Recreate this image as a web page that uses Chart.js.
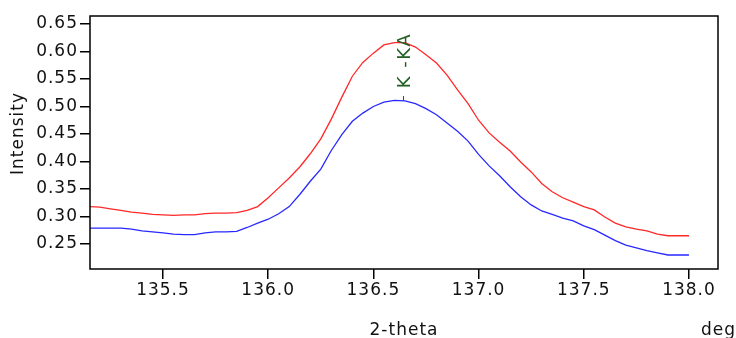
<!DOCTYPE html>
<html>
<head>
<meta charset="utf-8">
<script src="https://cdn.jsdelivr.net/npm/chart.js@4/dist/chart.umd.min.js"></script>
<style>
  html, body { margin: 0; padding: 0; background: #fff; }
  #wrap { width: 736px; height: 338px; }
</style>
</head>
<body>
<div id="wrap"><canvas id="myChart" width="736" height="338"></canvas></div>
<script>
// 2-theta positions (deg)
let twoTheta = [
  135.15, 135.20, 135.25, 135.30, 135.35, 135.40, 135.45, 135.50, 135.55, 135.60,
  135.65, 135.70, 135.75, 135.80, 135.85, 135.90, 135.95, 136.00, 136.05, 136.10,
  136.15, 136.20, 136.25, 136.30, 136.35, 136.40, 136.45, 136.50, 136.55, 136.60,
  136.65, 136.70, 136.75, 136.80, 136.85, 136.90, 136.95, 137.00, 137.05, 137.10,
  137.15, 137.20, 137.25, 137.30, 137.35, 137.40, 137.45, 137.50, 137.55, 137.60,
  137.65, 137.70, 137.75, 137.80, 137.85, 137.90, 137.95, 138.00
]

// upper (red) scan
let redIntensity = [
  0.318, 0.317, 0.314, 0.311, 0.308, 0.306, 0.304, 0.303, 0.302, 0.303,
  0.303, 0.305, 0.306, 0.306, 0.307, 0.311, 0.318, 0.334, 0.352, 0.370,
  0.390, 0.414, 0.441, 0.477, 0.517, 0.555, 0.580, 0.597, 0.612, 0.616,
  0.616, 0.608, 0.594, 0.579, 0.557, 0.530, 0.505, 0.475, 0.452, 0.435,
  0.419, 0.399, 0.381, 0.360, 0.345, 0.334, 0.326, 0.318, 0.312, 0.299,
  0.288, 0.281, 0.277, 0.274, 0.268, 0.265, 0.265, 0.265
]

// lower (blue) scan
let blueIntensity = [
  0.279, 0.279, 0.279, 0.279, 0.277, 0.274, 0.272, 0.270, 0.268, 0.267,
  0.267, 0.270, 0.272, 0.272, 0.273, 0.280, 0.288, 0.295, 0.305, 0.318,
  0.340, 0.364, 0.386, 0.420, 0.449, 0.473, 0.488, 0.500, 0.508, 0.511,
  0.510, 0.505, 0.496, 0.485, 0.470, 0.455, 0.437, 0.413, 0.392, 0.374,
  0.354, 0.336, 0.321, 0.310, 0.304, 0.297, 0.292, 0.283, 0.276, 0.266,
  0.256, 0.248, 0.243, 0.238, 0.234, 0.230, 0.230, 0.230
]

// tick labels
let xTicks = [135.5, 136.0, 136.5, 137.0, 137.5, 138.0]
let yTicks = [0.25, 0.30, 0.35, 0.40, 0.45, 0.50, 0.55, 0.60, 0.65]

// line marker
let markerLabel = "K -KA"
let markerPos = 136.64
let markerTop = 0.533
let markerTick = [0.510, 0.519]

const fontFamily = "'DejaVu Sans', Verdana, sans-serif"
const spacing = '1px'

// keep the wide letter spacing of the original
const spacingPlugin = {
  id: 'spacing',
  beforeLayout(chart) { chart.ctx.letterSpacing = spacing },
  beforeDraw(chart) { chart.ctx.letterSpacing = spacing }
}

// frame, axis titles and the line marker
const decoPlugin = {
  id: 'deco',
  afterDraw(chart) {
    const ctx = chart.ctx
    const a = chart.chartArea
    const xs = chart.scales.x
    const ys = chart.scales.y
    ctx.save()
    ctx.letterSpacing = spacing
    ctx.strokeStyle = '#000'
    ctx.lineWidth = 1.5
    ctx.strokeRect(a.left, a.top, a.right - a.left, a.bottom - a.top)

    ctx.fillStyle = '#111'
    ctx.font = "17px " + fontFamily
    ctx.textBaseline = 'alphabetic'
    ctx.textAlign = 'center'
    ctx.fillText('2-theta', (a.left + a.right) / 2, 335)
    ctx.textAlign = 'right'
    ctx.fillText('deg', 736, 335)

    ctx.save()
    ctx.translate(23, (a.top + a.bottom) / 2 - 9)
    ctx.rotate(-Math.PI / 2)
    ctx.textAlign = 'center'
    ctx.fillText('Intensity', 0, 0)
    ctx.restore()

    // marker
    const mx = xs.getPixelForValue(markerPos)
    ctx.strokeStyle = '#236023'
    ctx.lineWidth = 1
    ctx.beginPath()
    ctx.moveTo(Math.round(mx) + 0.5, ys.getPixelForValue(markerTick[0]))
    ctx.lineTo(Math.round(mx) + 0.5, ys.getPixelForValue(markerTick[1]))
    ctx.stroke()
    ctx.save()
    ctx.translate(mx + 7, ys.getPixelForValue(markerTop))
    ctx.rotate(-Math.PI / 2)
    ctx.font = "18px " + fontFamily
    ctx.letterSpacing = '1.5px'
    ctx.fillStyle = '#236023'
    ctx.textAlign = 'left'
    ctx.fillText(markerLabel, 0, 0)
    ctx.restore()
    ctx.restore()
  }
}

const ctx = document.getElementById('myChart').getContext('2d')
const myChart = new Chart(ctx, {
  type: 'line',
  data: {
    labels: twoTheta,
    datasets: [{
      label: 'red',
      data: twoTheta.map((t, i) => ({x: t, y: redIntensity[i]})),
      borderColor: 'rgb(255, 40, 40)',
      borderWidth: 1.3,
      pointRadius: 0,
      tension: 0
    }, {
      label: 'blue',
      data: twoTheta.map((t, i) => ({x: t, y: blueIntensity[i]})),
      borderColor: 'rgb(40, 40, 255)',
      borderWidth: 1.3,
      pointRadius: 0,
      tension: 0
    }]
  },
  options: {
    responsive: false,
    animation: false,
    events: [],
    layout: { padding: { top: 16, right: 18, left: 0, bottom: 0 } },
    plugins: { legend: { display: false }, tooltip: { enabled: false } },
    scales: {
      x: {
        type: 'linear',
        min: 135.153,
        max: 138.138,
        afterBuildTicks: (s) => { s.ticks = xTicks.map(v => ({value: v})) },
        afterFit: (s) => { s.height = 69 },
        border: { display: false },
        grid: { drawOnChartArea: false, drawTicks: true, tickLength: 10, color: '#000', lineWidth: 1.5 },
        ticks: {
          color: '#111',
          padding: 1,
          maxRotation: 0,
          font: { family: fontFamily, size: 17 },
          callback: (v) => Number(v).toFixed(1)
        }
      },
      y: {
        min: 0.2045,
        max: 0.6645,
        afterBuildTicks: (s) => { s.ticks = yTicks.map(v => ({value: v})) },
        afterFit: (s) => { s.width = 90 },
        border: { display: false },
        grid: { drawOnChartArea: false, drawTicks: true, tickLength: 10, color: '#000', lineWidth: 1.5 },
        ticks: {
          color: '#111',
          padding: 2,
          font: { family: fontFamily, size: 17 },
          callback: (v) => Number(v).toFixed(2)
        }
      }
    }
  },
  plugins: [spacingPlugin, decoPlugin]
})
</script>
</body>
</html>
